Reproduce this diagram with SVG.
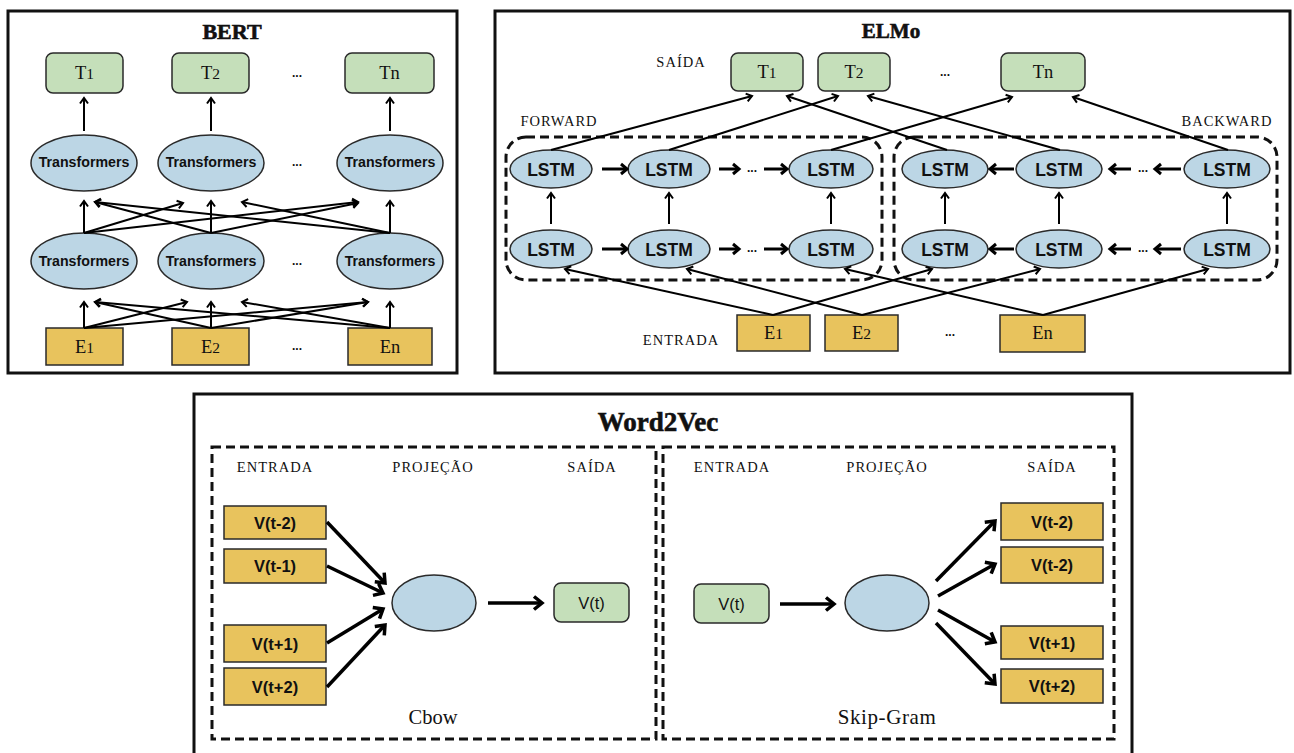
<svg xmlns="http://www.w3.org/2000/svg" width="1294" height="753" viewBox="0 0 1294 753">
<style>
.frame{fill:none;stroke:#111;stroke-width:3}
.dash{fill:none;stroke:#111;stroke-width:3;stroke-dasharray:9 5}
.g{fill:#c5dfba;stroke:#2a2a2a;stroke-width:1.5}
.b{fill:#bcd6e5;stroke:#2a2a2a;stroke-width:1.5}
.y{fill:#e8c35d;stroke:#2a2a2a;stroke-width:1.5}
.title{font-family:"Liberation Serif",serif;font-weight:bold;fill:#111;stroke:#111;stroke-width:0.6;text-anchor:middle}
.ser{font-family:"Liberation Serif",serif;fill:#111;text-anchor:middle}
.lab{font-family:"Liberation Serif",serif;font-size:14.5px;letter-spacing:1px;fill:#111;text-anchor:middle}
.sb{font-family:"Liberation Sans",Arial,sans-serif;font-weight:bold;fill:#111;text-anchor:middle}
.sr{font-family:"Liberation Sans",Arial,sans-serif;fill:#111;text-anchor:middle}
.dots{font-family:"Liberation Sans",Arial,sans-serif;font-weight:bold;font-size:12px;fill:#111;text-anchor:middle}
.thin{stroke:#000;stroke-width:2;fill:none;marker-end:url(#ah)}
.mid{stroke:#000;stroke-width:3;fill:none;marker-end:url(#am)}
.thick{stroke:#000;stroke-width:3.5;fill:none;marker-end:url(#at)}
</style>
<defs>
<marker id="ah" markerUnits="userSpaceOnUse" markerWidth="12" markerHeight="12" refX="6.5" refY="4.5" orient="auto" overflow="visible"><path d="M1,0.5 L6.5,4.5 L1,8.5" fill="none" stroke="#000" stroke-width="2"/></marker>
<marker id="am" markerUnits="userSpaceOnUse" markerWidth="14" markerHeight="14" refX="7" refY="5.5" orient="auto" overflow="visible"><path d="M1,0.5 L7,5.5 L1,10.5" fill="none" stroke="#000" stroke-width="3"/></marker>
<marker id="at" markerUnits="userSpaceOnUse" markerWidth="18" markerHeight="18" refX="9" refY="7" orient="auto" overflow="visible"><path d="M1,0.5 L9,7 L1,13.5" fill="none" stroke="#000" stroke-width="3.5"/></marker>
</defs>
<rect width="1294" height="753" fill="#fff"/>

<!-- ===== BERT ===== -->
<g id="bert">
<rect class="frame" x="8" y="11" width="449" height="362"/>
<text class="title" x="232" y="39" font-size="22">BERT</text>
</g>
<g id="bert-t1"><rect class="g" x="46" y="53" width="77" height="40" rx="7"/><text class="ser" x="84.5" y="79" font-size="18.5">T<tspan font-size="15.5">1</tspan></text></g>
<g id="bert-t2"><rect class="g" x="172" y="53" width="77" height="40" rx="7"/><text class="ser" x="210.5" y="79" font-size="18.5">T<tspan font-size="15.5">2</tspan></text></g>
<g id="bert-tdots"><text class="dots" x="297" y="77">...</text></g>
<g id="bert-tn"><rect class="g" x="345" y="53" width="89" height="40" rx="7"/><text class="ser" x="389.5" y="79" font-size="18.5">Tn</text></g>

<g id="bert-tr1"><ellipse class="b" cx="84" cy="163" rx="53" ry="28"/><text class="sb" x="84" y="167" font-size="14.2">Transformers</text></g>
<g id="bert-tr2"><ellipse class="b" cx="211" cy="163" rx="53" ry="28"/><text class="sb" x="211" y="167" font-size="14.2">Transformers</text></g>
<g id="bert-trdots1"><text class="dots" x="297" y="166">...</text></g>
<g id="bert-tr3"><ellipse class="b" cx="390" cy="163" rx="53" ry="28"/><text class="sb" x="390" y="167" font-size="14.2">Transformers</text></g>

<g id="bert-tr4"><ellipse class="b" cx="84" cy="261" rx="53" ry="28"/><text class="sb" x="84" y="266" font-size="14.2">Transformers</text></g>
<g id="bert-tr5"><ellipse class="b" cx="211" cy="261" rx="53" ry="28"/><text class="sb" x="211" y="266" font-size="14.2">Transformers</text></g>
<g id="bert-trdots2"><text class="dots" x="297" y="265">...</text></g>
<g id="bert-tr6"><ellipse class="b" cx="390" cy="261" rx="53" ry="28"/><text class="sb" x="390" y="266" font-size="14.2">Transformers</text></g>

<g id="bert-e1"><rect class="y" x="46" y="328" width="77" height="37"/><text class="ser" x="84.5" y="353" font-size="18.5">E<tspan font-size="15.5">1</tspan></text></g>
<g id="bert-e2"><rect class="y" x="172" y="328" width="77" height="37"/><text class="ser" x="210.5" y="353" font-size="18.5">E<tspan font-size="15.5">2</tspan></text></g>
<g id="bert-edots"><text class="dots" x="297" y="350">...</text></g>
<g id="bert-en"><rect class="y" x="348" y="328" width="84" height="37"/><text class="ser" x="390" y="353" font-size="18.5">En</text></g>

<!-- ===== ELMo ===== -->
<g id="elmo">
<rect class="frame" x="495" y="11" width="795" height="362"/>
<text class="title" x="891" y="38" font-size="21">ELMo</text>
<text class="lab" x="681" y="67">SAÍDA</text>
<text class="lab" x="559" y="126">FORWARD</text>
<text class="lab" x="1227" y="126">BACKWARD</text>
<text class="lab" x="681" y="345">ENTRADA</text>
</g>
<g id="elmo-fwd-box"><rect class="dash" x="506" y="137" width="376" height="143" rx="20"/></g>
<g id="elmo-bwd-box"><rect class="dash" x="894" y="137" width="383" height="143" rx="20"/></g>

<g id="elmo-t1"><rect class="g" x="731" y="53" width="72" height="38" rx="7"/><text class="ser" x="767" y="78" font-size="18.5">T<tspan font-size="15.5">1</tspan></text></g>
<g id="elmo-t2"><rect class="g" x="818" y="53" width="72" height="38" rx="7"/><text class="ser" x="854" y="78" font-size="18.5">T<tspan font-size="15.5">2</tspan></text></g>
<g id="elmo-tdots"><text class="dots" x="945" y="76">...</text></g>
<g id="elmo-tn"><rect class="g" x="1001" y="53" width="84" height="38" rx="7"/><text class="ser" x="1043" y="78" font-size="18.5">Tn</text></g>

<g id="lstm-f1"><ellipse class="b" cx="551" cy="169" rx="41" ry="19"/><text class="sb" x="551" y="175.5" font-size="17.5">LSTM</text></g>
<g id="lstm-f2"><ellipse class="b" cx="669" cy="169" rx="41" ry="19"/><text class="sb" x="669" y="175.5" font-size="17.5">LSTM</text></g>
<g id="lstm-f3"><ellipse class="b" cx="831" cy="169" rx="42" ry="19"/><text class="sb" x="831" y="175.5" font-size="17.5">LSTM</text></g>
<g id="lstm-f4"><ellipse class="b" cx="551" cy="249" rx="41" ry="19"/><text class="sb" x="551" y="255.5" font-size="17.5">LSTM</text></g>
<g id="lstm-f5"><ellipse class="b" cx="669" cy="249" rx="41" ry="19"/><text class="sb" x="669" y="255.5" font-size="17.5">LSTM</text></g>
<g id="lstm-f6"><ellipse class="b" cx="831" cy="249" rx="42" ry="19"/><text class="sb" x="831" y="255.5" font-size="17.5">LSTM</text></g>
<g id="lstm-b1"><ellipse class="b" cx="945" cy="169" rx="43" ry="19"/><text class="sb" x="945" y="175.5" font-size="17.5">LSTM</text></g>
<g id="lstm-b2"><ellipse class="b" cx="1059" cy="169" rx="43" ry="19"/><text class="sb" x="1059" y="175.5" font-size="17.5">LSTM</text></g>
<g id="lstm-b3"><ellipse class="b" cx="1227" cy="169" rx="43" ry="19"/><text class="sb" x="1227" y="175.5" font-size="17.5">LSTM</text></g>
<g id="lstm-b4"><ellipse class="b" cx="945" cy="249" rx="43" ry="19"/><text class="sb" x="945" y="255.5" font-size="17.5">LSTM</text></g>
<g id="lstm-b5"><ellipse class="b" cx="1059" cy="249" rx="43" ry="19"/><text class="sb" x="1059" y="255.5" font-size="17.5">LSTM</text></g>
<g id="lstm-b6"><ellipse class="b" cx="1227" cy="249" rx="43" ry="19"/><text class="sb" x="1227" y="255.5" font-size="17.5">LSTM</text></g>
<g id="elmo-lstm-dots">
<text class="dots" x="752" y="172">...</text><text class="dots" x="752" y="252">...</text>
<text class="dots" x="1143" y="172">...</text><text class="dots" x="1143" y="252">...</text>
</g>

<g id="elmo-e1"><rect class="y" x="737" y="315" width="73" height="36"/><text class="ser" x="773.5" y="339" font-size="18.5">E<tspan font-size="15.5">1</tspan></text></g>
<g id="elmo-e2"><rect class="y" x="825" y="315" width="73" height="36"/><text class="ser" x="861.5" y="339" font-size="18.5">E<tspan font-size="15.5">2</tspan></text></g>
<g id="elmo-edots"><text class="dots" x="950" y="336">...</text></g>
<g id="elmo-en"><rect class="y" x="1000" y="315" width="85" height="37"/><text class="ser" x="1042.5" y="339" font-size="18.5">En</text></g>

<!-- ===== Word2Vec ===== -->
<g id="w2v">
<path class="frame" d="M194,760 V394 H1132 V760"/>
<text class="title" x="658" y="431" font-size="27">Word2Vec</text>
</g>
<g id="cbow-box">
<rect class="dash" x="212" y="447" width="444" height="292"/>
<text class="lab" x="275" y="472">ENTRADA</text>
<text class="lab" x="433" y="472">PROJEÇÃO</text>
<text class="lab" x="592" y="472">SAÍDA</text>
<text class="ser" x="433" y="724" font-size="20.5">Cbow</text>
</g>
<g id="cbow-in1"><rect class="y" x="224" y="506" width="102" height="33"/><text class="sb" x="275" y="528.5" font-size="16.5">V(t-2)</text></g>
<g id="cbow-in2"><rect class="y" x="224" y="549" width="102" height="34"/><text class="sb" x="275" y="572" font-size="16.5">V(t-1)</text></g>
<g id="cbow-in3"><rect class="y" x="224" y="625" width="102" height="37"/><text class="sb" x="275" y="649.5" font-size="16.5">V(t+1)</text></g>
<g id="cbow-in4"><rect class="y" x="224" y="668" width="102" height="37"/><text class="sb" x="275" y="692.5" font-size="16.5">V(t+2)</text></g>
<g id="cbow-proj"><ellipse class="b" cx="434" cy="603" rx="42" ry="28"/></g>
<g id="cbow-out"><rect class="g" x="554" y="583" width="75" height="39" rx="7"/><text class="sr" x="591.5" y="608.5" font-size="16.5">V(t)</text></g>

<g id="skip-box">
<rect class="dash" x="663" y="447" width="451" height="292"/>
<text class="lab" x="732" y="472">ENTRADA</text>
<text class="lab" x="887" y="472">PROJEÇÃO</text>
<text class="lab" x="1052" y="472">SAÍDA</text>
<text class="ser" x="887" y="724" font-size="21" letter-spacing="0.6">Skip-Gram</text>
</g>
<g id="skip-in"><rect class="g" x="694" y="584" width="75" height="39" rx="7"/><text class="sr" x="731.5" y="609.5" font-size="16.5">V(t)</text></g>
<g id="skip-proj"><ellipse class="b" cx="887" cy="603" rx="42" ry="28"/></g>
<g id="skip-out1"><rect class="y" x="1001" y="503" width="102" height="37"/><text class="sb" x="1052" y="527.5" font-size="16.5">V(t-2)</text></g>
<g id="skip-out2"><rect class="y" x="1001" y="547" width="102" height="36"/><text class="sb" x="1052" y="571" font-size="16.5">V(t-2)</text></g>
<g id="skip-out3"><rect class="y" x="1001" y="626" width="102" height="33"/><text class="sb" x="1052" y="648.5" font-size="16.5">V(t+1)</text></g>
<g id="skip-out4"><rect class="y" x="1001" y="669" width="102" height="34"/><text class="sb" x="1052" y="692" font-size="16.5">V(t+2)</text></g>

<!-- ===== Connectors ===== -->
<g id="connectors">
<!-- BERT top -->
<line class="thin" x1="84" y1="131" x2="84" y2="98"/>
<line class="thin" x1="211" y1="131" x2="211" y2="98"/>
<line class="thin" x1="390" y1="131" x2="390" y2="98"/>
<!-- BERT mid -> top -->
<line class="thin" x1="84" y1="233" x2="84" y2="201"/>
<line class="thin" x1="84" y1="233" x2="183" y2="203"/>
<line class="thin" x1="84" y1="233" x2="358" y2="202"/>
<line class="thin" x1="211" y1="233" x2="211" y2="201"/>
<line class="thin" x1="211" y1="233" x2="95" y2="202"/>
<line class="thin" x1="211" y1="233" x2="358" y2="203"/>
<line class="thin" x1="390" y1="233" x2="390" y2="201"/>
<line class="thin" x1="390" y1="233" x2="95" y2="202"/>
<line class="thin" x1="390" y1="233" x2="242" y2="202"/>
<!-- BERT E -> mid -->
<line class="thin" x1="84" y1="328" x2="84" y2="302"/>
<line class="thin" x1="84" y1="328" x2="187" y2="302"/>
<line class="thin" x1="84" y1="328" x2="368" y2="302"/>
<line class="thin" x1="211" y1="328" x2="211" y2="302"/>
<line class="thin" x1="211" y1="328" x2="95" y2="302"/>
<line class="thin" x1="211" y1="328" x2="368" y2="302"/>
<line class="thin" x1="390" y1="328" x2="390" y2="302"/>
<line class="thin" x1="390" y1="328" x2="95" y2="302"/>
<line class="thin" x1="390" y1="328" x2="242" y2="302"/>

<!-- ELMo LSTM -> T -->
<line class="thin" x1="551" y1="150" x2="752" y2="96"/>
<line class="thin" x1="669" y1="150" x2="838" y2="96"/>
<line class="thin" x1="831" y1="150" x2="1012" y2="97"/>
<line class="thin" x1="947" y1="150" x2="787" y2="96"/>
<line class="thin" x1="1060" y1="150" x2="868" y2="96"/>
<line class="thin" x1="1228" y1="150" x2="1073" y2="97"/>
<!-- ELMo forward horizontal -->
<line class="mid" x1="602" y1="169" x2="627" y2="169"/>
<line class="mid" x1="719" y1="169" x2="739" y2="169"/>
<line class="mid" x1="764" y1="169" x2="787" y2="169"/>
<line class="mid" x1="602" y1="249" x2="627" y2="249"/>
<line class="mid" x1="719" y1="249" x2="739" y2="249"/>
<line class="mid" x1="764" y1="249" x2="787" y2="249"/>
<!-- ELMo backward horizontal -->
<line class="mid" x1="1014" y1="169" x2="990" y2="169"/>
<line class="mid" x1="1131" y1="169" x2="1110" y2="169"/>
<line class="mid" x1="1181" y1="169" x2="1155" y2="169"/>
<line class="mid" x1="1014" y1="249" x2="990" y2="249"/>
<line class="mid" x1="1131" y1="249" x2="1110" y2="249"/>
<line class="mid" x1="1181" y1="249" x2="1155" y2="249"/>
<!-- ELMo vertical -->
<line class="thin" x1="551" y1="224" x2="551" y2="193"/>
<line class="thin" x1="669" y1="224" x2="669" y2="193"/>
<line class="thin" x1="831" y1="224" x2="831" y2="193"/>
<line class="thin" x1="945" y1="224" x2="945" y2="193"/>
<line class="thin" x1="1059" y1="224" x2="1059" y2="193"/>
<line class="thin" x1="1227" y1="224" x2="1227" y2="193"/>
<!-- ELMo E -> LSTM -->
<line class="thin" x1="773" y1="315" x2="565" y2="269"/>
<line class="thin" x1="773" y1="315" x2="932" y2="269"/>
<line class="thin" x1="862" y1="315" x2="687" y2="269"/>
<line class="thin" x1="862" y1="315" x2="1040" y2="269"/>
<line class="thin" x1="1043" y1="315" x2="845" y2="269"/>
<line class="thin" x1="1043" y1="315" x2="1208" y2="269"/>

<!-- Cbow -->
<line class="thick" x1="327" y1="522" x2="385" y2="583"/>
<line class="thick" x1="327" y1="566" x2="383" y2="593"/>
<line class="thick" x1="327" y1="643" x2="383" y2="609"/>
<line class="thick" x1="327" y1="687" x2="385" y2="625"/>
<line class="thick" x1="488" y1="603" x2="542" y2="603"/>
<!-- Skip-Gram -->
<line class="thick" x1="780" y1="604" x2="834" y2="604"/>
<line class="thick" x1="936" y1="581" x2="995" y2="521"/>
<line class="thick" x1="938" y1="596" x2="995" y2="564"/>
<line class="thick" x1="938" y1="610" x2="995" y2="642"/>
<line class="thick" x1="936" y1="623" x2="995" y2="684"/>
</g>
</svg>
